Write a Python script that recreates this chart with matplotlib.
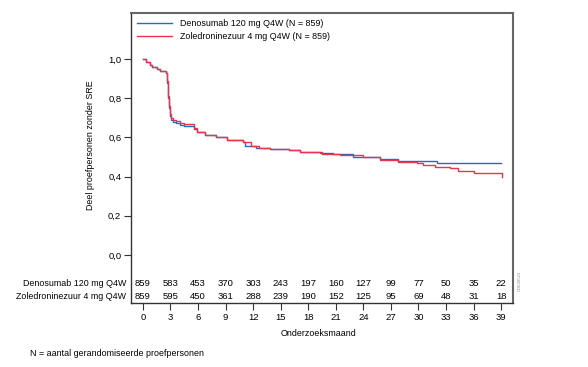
import matplotlib
matplotlib.use("Agg")
import matplotlib.pyplot as plt

plt.rcParams['font.family'] = ['Liberation Sans', 'DejaVu Sans']

# Kaplan-Meier steps (months, proportion without SRE)
deno_t = [0, 0.3, 0.76, 1.0, 1.5, 1.85, 2.5, 2.6, 2.7, 2.8, 2.9, 3.1, 3.3, 3.6, 4.0, 4.5,
          5.6, 5.9, 6.8, 8.0, 9.1, 10.9, 11.1, 12.3, 13.8, 15.9, 17.1, 19.3, 20.7, 22.9,
          25.8, 27.8, 32.0, 39.0]
deno_s = [1.0, 0.985, 0.97, 0.96, 0.947, 0.94, 0.93, 0.88, 0.80, 0.75, 0.71, 0.69, 0.68,
          0.672, 0.663, 0.66, 0.645, 0.628, 0.612, 0.60, 0.587, 0.578, 0.556, 0.548,
          0.54, 0.535, 0.524, 0.519, 0.514, 0.502, 0.488, 0.478, 0.47, 0.47]
zol_t = [0, 0.3, 0.76, 1.0, 1.5, 1.85, 2.5, 2.6, 2.7, 2.8, 2.9, 3.1, 3.3, 3.6, 4.0, 4.5,
         5.6, 5.9, 6.8, 8.0, 9.1, 10.9, 11.8, 12.6, 13.8, 15.9, 17.1, 19.5, 21.5, 24.0,
         25.8, 27.8, 29.8, 30.5, 31.8, 33.4, 34.3, 36.0, 39.0, 39.05]
zol_s = [1.0, 0.985, 0.97, 0.96, 0.947, 0.94, 0.93, 0.89, 0.81, 0.76, 0.72, 0.70, 0.69,
         0.682, 0.675, 0.668, 0.648, 0.63, 0.612, 0.60, 0.587, 0.578, 0.556, 0.548,
         0.54, 0.535, 0.528, 0.514, 0.508, 0.498, 0.485, 0.476, 0.468, 0.459, 0.45,
         0.442, 0.43, 0.42, 0.42, 0.40]

months = [0, 3, 6, 9, 12, 15, 18, 21, 24, 27, 30, 33, 36, 39]
deno_risk = [859, 583, 453, 370, 303, 243, 197, 160, 127, 99, 77, 50, 35, 22]
zol_risk = [859, 595, 450, 361, 288, 239, 190, 152, 125, 95, 69, 48, 31, 18]

deno_label = "Denosumab 120 mg Q4W"
zol_label = "Zoledroninezuur 4 mg Q4W"
blue = "#1f6fc0"
red = "#e8354c"
fs = 6.4

fig = plt.figure(figsize=(5.88, 3.67), dpi=100)
ax = fig.add_axes([131 / 588, 1 - 303 / 367, 382 / 588, 290 / 367])

ax.step(deno_t, deno_s, where='post', color=blue, lw=1.0, label=deno_label + " (N = 859)")
ax.step(zol_t, zol_s, where='post', color=red, lw=1.0, label=zol_label + " (N = 859)")

ax.set_xlim(-1.3, 40.3)
ax.set_ylim(-0.245, 1.235)
ax.set_yticks([0, 0.2, 0.4, 0.6, 0.8, 1.0])
ax.set_yticklabels(["0,0", "0,2", "0,4", "0,6", "0,8", "1,0"])
ax.set_xticks(months)
ax.tick_params(labelsize=6.8, length=5, width=0.8, color="#333333", pad=2)

for s in ["left", "bottom"]:
    ax.spines[s].set_color("#333333")
    ax.spines[s].set_linewidth(1.0)
for s in ["top", "right"]:
    ax.spines[s].set_color("#666666")
    ax.spines[s].set_linewidth(1.5)

# numbers at risk inside the frame
for m, a, b in zip(months, deno_risk, zol_risk):
    ax.text(m, -0.147, str(a), ha='center', va='center', fontsize=6.8)
    ax.text(m, -0.212, str(b), ha='center', va='center', fontsize=6.8)
ax.text(-1.8, -0.147, deno_label, ha='right', va='center', fontsize=fs)
ax.text(-1.8, -0.212, zol_label, ha='right', va='center', fontsize=fs)

ax.set_ylabel("Deel proefpersonen zonder SRE", fontsize=fs)
ax.yaxis.set_label_coords(-0.095, 0.545)
ax.set_xlabel("Onderzoeksmaand", fontsize=fs)
ax.xaxis.set_label_coords(0.49, -0.09)

leg = ax.legend(loc='upper left', frameon=False, fontsize=fs, handlelength=4.0,
                borderaxespad=0.25, handletextpad=0.9, labelspacing=0.5)

ax.text(1.012, 0.04, "CDE28523", rotation=90, fontsize=3, color="#888888",
        transform=ax.transAxes, va='bottom', ha='left')

fig.text(30 / 588, 1 - 353 / 367, "N = aantal gerandomiseerde proefpersonen",
         fontsize=fs, va='center', ha='left')

fig.savefig("out.png", dpi=100)
